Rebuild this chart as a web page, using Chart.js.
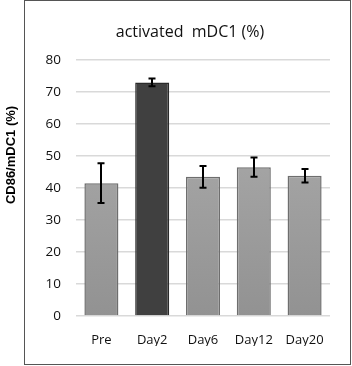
<!DOCTYPE html>
<html>
<head>
<meta charset="utf-8">
<script src="https://cdn.jsdelivr.net/npm/chart.js@4.4.1/dist/chart.umd.min.js"></script>
<style>
  html, body { margin: 0; padding: 0; background: #fff; }
  #wrap { width: 352px; height: 366px; position: relative; }
</style>
</head>
<body>
<div id="wrap"><canvas id="myChart" width="352" height="366"></canvas></div>
<script>
const categories = ["Pre", "Day2", "Day6", "Day12", "Day20"];
const values = [41.5, 73.0, 43.5, 46.5, 43.8];
const errors = [6.2, 1.2, 3.4, 3.0, 2.1];
const yTicks = [0, 10, 20, 30, 40, 50, 60, 70, 80];
const highlight = "Day2";
const chartTitle = "activated  mDC1 (%)";
const yTitle = "CD86/mDC1 (%)";

const ctx = document.getElementById("myChart").getContext("2d");

function barFill(context) {
  const chart = context.chart;
  const area = chart.chartArea;
  if (!area) return "#a0a0a0";
  if (categories[context.dataIndex] === highlight) return "#404040";
  const g = chart.ctx.createLinearGradient(0, area.top, 0, area.bottom);
  g.addColorStop(0, "#b0b0b0");
  g.addColorStop(1, "#929292");
  return g;
}

const errorBars = {
  id: "errorBars",
  afterDatasetsDraw(chart) {
    const c = chart.ctx;
    const meta = chart.getDatasetMeta(0);
    const y = chart.scales.y;
    c.save();
    c.strokeStyle = "#000";
    c.lineWidth = 2;
    meta.data.forEach((bar, i) => {
      const x = Math.round(bar.x);
      const top = y.getPixelForValue(values[i] + errors[i]);
      const bot = y.getPixelForValue(values[i] - errors[i]);
      c.beginPath();
      c.moveTo(x, top); c.lineTo(x, bot);
      c.moveTo(x - 3.5, top); c.lineTo(x + 3.5, top);
      c.moveTo(x - 3.5, bot); c.lineTo(x + 3.5, bot);
      c.stroke();
    });
    c.restore();
  },
  afterDraw(chart) {
    const c = chart.ctx;
    c.save();
    // outer frame
    c.strokeStyle = "#555";
    c.lineWidth = 1;
    c.strokeRect(24.5, 0.5, 326, 364);
    // chart title
    c.fillStyle = "#111";
    c.font = "16px 'Open Sans', sans-serif";
    c.textAlign = "center";
    c.textBaseline = "middle";
    c.fillText(chartTitle, 190, 32);
    // y axis title
    c.fillStyle = "#000";
    c.font = "bold 13px 'Liberation Sans', Arial, sans-serif";
    c.translate(11, 155);
    c.rotate(-Math.PI / 2);
    c.fillText(yTitle, 0, 0);
    c.restore();
  }
};

const chart = new Chart(ctx, {
  type: "bar",
  data: {
    labels: categories,
    datasets: [{
      data: values,
      backgroundColor: barFill,
      borderColor: (c) => categories[c.dataIndex] === highlight ? "#2a2a2a" : "#6e6e6e",
      borderWidth: 1.5,
      categoryPercentage: 1,
      barPercentage: 0.67
    }]
  },
  options: {
    responsive: false,
    animation: false,
    layout: { padding: { top: 60, right: 22, bottom: 20, left: 0 } },
    plugins: {
      legend: { display: false },
      tooltip: { enabled: false },
      title: { display: false }
    },
    scales: {
      x: {
        grid: { display: false },
        border: { display: false },
        ticks: { color: "#111", font: { family: "'Open Sans', sans-serif", size: 13 }, padding: 8 },
        afterFit: (s) => { s.height = 30; }
      },
      y: {
        min: 0,
        max: 80,
        afterBuildTicks: (s) => { s.ticks = yTicks.map(v => ({ value: v })); },
        grid: { color: "#d9d9d9", lineWidth: 1.5, drawTicks: false },
        border: { display: false },
        ticks: { color: "#111", font: { family: "'Open Sans', sans-serif", size: 13.5 }, padding: 15 },
        afterFit: (s) => { s.width = 76; }
      }
    }
  },
  plugins: [errorBars]
});
</script>
</body>
</html>
